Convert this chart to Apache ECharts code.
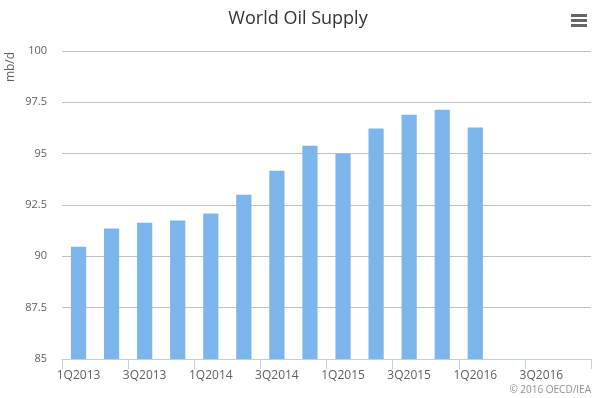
<!DOCTYPE html>
<html>
<head>
<meta charset="utf-8">
<script src="https://cdn.jsdelivr.net/npm/echarts@6/dist/echarts.min.js"></script>
<style>
    html, body { margin: 0; padding: 0; background: #fff; }
    #main { width: 596px; height: 398px; }
</style>
</head>
<body>
<div id="main"></div>
<script>
    // quarters along the x axis
    var quarters = ['1Q2013','2Q2013','3Q2013','4Q2013','1Q2014','2Q2014','3Q2014','4Q2014',
                    '1Q2015','2Q2015','3Q2015','4Q2015','1Q2016','2Q2016','3Q2016','4Q2016'];
    // world oil supply, mb/d (no data after 1Q2016)
    var supply = [90.47, 91.35, 91.64, 91.74, 92.08, 93.0, 94.17, 95.39,
                  95.0, 96.22, 96.9, 97.14, 96.27, null, null, null];
    var yTicks = [85, 87.5, 90, 92.5, 95, 97.5, 100];

    var font = '"Open Sans", "DejaVu Sans", sans-serif';
    var chart = echarts.init(document.getElementById('main'));

    var option = {
        animation: false,
        textStyle: { fontFamily: font },
        title: {
            text: 'World Oil Supply',
            left: 'center',
            top: 5,
            textStyle: { fontSize: 18, fontWeight: 'normal', color: '#333333', fontFamily: font }
        },
        grid: { left: 62, right: 5, top: 51, bottom: 39 },
        xAxis: {
            type: 'category',
            data: quarters,
            boundaryGap: true,
            axisLine: { lineStyle: { color: '#C0D0E0', width: 1 } },
            axisTick: { show: true, length: 10, lineStyle: { color: '#C0D0E0' } },
            axisLabel: {
                interval: 1,
                color: '#606060',
                fontSize: 12,
                margin: 11,
                fontFamily: font
            }
        },
        yAxis: {
            type: 'value',
            min: yTicks[0],
            max: yTicks[yTicks.length - 1],
            interval: 2.5,
            axisLine: { show: false },
            axisTick: { show: false },
            axisLabel: { color: '#606060', fontSize: 11, margin: 15, fontFamily: font },
            splitLine: { lineStyle: { color: '#C0C0C0', width: 1 } }
        },
        series: [
            {
                name: 'World Oil Supply',
                type: 'bar',
                data: supply,
                barWidth: '46%',
                itemStyle: { color: '#7CB5EC' }
            }
        ],
        graphic: [
            // y axis title
            {
                type: 'text',
                x: 11,
                y: 67,
                rotation: Math.PI / 2,
                style: { text: 'mb/d', fill: '#606060', fontSize: 12, fontFamily: font, align: 'center', verticalAlign: 'middle' }
            },
            // export menu icon
            { type: 'rect', left: 571, top: 14, shape: { width: 16, height: 3 }, style: { fill: '#666666' } },
            { type: 'rect', left: 571, top: 19, shape: { width: 16, height: 3 }, style: { fill: '#666666' } },
            { type: 'rect', left: 571, top: 24, shape: { width: 16, height: 3 }, style: { fill: '#666666' } },
            {
                type: 'text',
                right: 5,
                top: 385,
                style: { text: '\u00a9 2016 OECD/IEA', fill: '#909090', fontSize: 10, fontFamily: font }
            }
        ]
    };

    chart.setOption(option);
</script>
</body>
</html>
